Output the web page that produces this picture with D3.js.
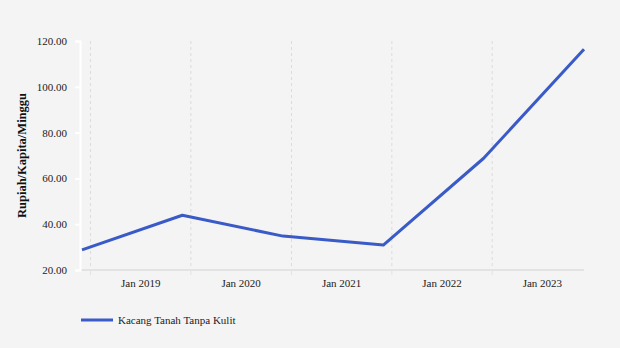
<!DOCTYPE html>
<html>
<head>
<meta charset="utf-8">
<script src="https://cdn.jsdelivr.net/npm/d3@7"></script>
<style>
  html, body { margin: 0; padding: 0; background: #f4f4f4; }
  svg { display: block; font-family: "Liberation Serif", "Times New Roman", serif; }
</style>
</head>
<body>
<svg id="chart" width="620" height="348"></svg>
<script>
// Weekly per-capita spending, peanuts without shell
const dates = ["2018-12-01", "2019-12-01", "2020-12-01", "2021-12-01", "2022-12-01", "2023-12-01"];
const values = [28.8, 43.9, 34.8, 30.9, 68.8, 116.4];
const yTicks = [20, 40, 60, 80, 100, 120];
const xTickYears = [2019, 2020, 2021, 2022, 2023];
const seriesName = "Kacang Tanah Tanpa Kulit";
const yTitle = "Rupiah/Kapita/Minggu";

const parse = d3.timeParse("%Y-%m-%d");
const data = dates.map((d, i) => ({ date: parse(d), value: values[i] }));

const svg = d3.select("#chart");
const plot = { left: 82, right: 584, top: 41, bottom: 270 };

const x = d3.scaleTime()
  .domain(d3.extent(data, d => d.date))
  .range([plot.left, plot.right]);
const y = d3.scaleLinear().domain([20, 120]).range([plot.bottom, plot.top]);

const tickDates = xTickYears.map(yr => new Date(yr, 0, 1));

// vertical dashed grid at each January
svg.append("g").selectAll("line").data(tickDates).join("line")
  .attr("x1", d => x(d)).attr("x2", d => x(d))
  .attr("y1", plot.top).attr("y2", plot.bottom)
  .attr("stroke", "#dcdcdc").attr("stroke-width", 1)
  .attr("stroke-dasharray", "3,3");

// x axis baseline and ticks
const xAxis = svg.append("g");
xAxis.append("line")
  .attr("x1", plot.left - 1).attr("x2", plot.right)
  .attr("y1", plot.bottom).attr("y2", plot.bottom)
  .attr("stroke", "#e3e3e3").attr("stroke-width", 2);
xAxis.selectAll("line.tick").data(tickDates).join("line")
  .attr("class", "tick")
  .attr("x1", d => x(d)).attr("x2", d => x(d))
  .attr("y1", plot.bottom).attr("y2", plot.bottom + 5)
  .attr("stroke", "#e3e3e3").attr("stroke-width", 1);
// year labels centred within each year
xAxis.selectAll("text").data(tickDates).join("text")
  .attr("x", d => (x(d) + x(d3.timeYear.offset(d, 1))) / 2)
  .attr("y", plot.bottom + 17)
  .attr("text-anchor", "middle")
  .attr("font-size", 11)
  .attr("fill", "#222")
  .text(d => d3.timeFormat("Jan %Y")(d));

// y axis
const yAxis = svg.append("g").attr("transform", `translate(${plot.left - 2},0)`)
  .call(d3.axisLeft(y).tickValues(yTicks).tickFormat(d3.format(".2f")).tickSize(5).tickPadding(8));
yAxis.select(".domain").attr("stroke", "#ffffff").attr("stroke-width", 2);
yAxis.selectAll(".tick line").attr("stroke", "#ffffff").attr("stroke-width", 2);
yAxis.selectAll(".tick text")
  .attr("font-family", "Liberation Serif, serif")
  .attr("font-size", 11).attr("fill", "#222");

// y title
svg.append("text")
  .attr("transform", `translate(26,${(plot.top + plot.bottom) / 2}) rotate(-90)`)
  .attr("text-anchor", "middle")
  .attr("font-size", 12.5).attr("font-weight", "bold").attr("fill", "#111")
  .text(yTitle);

// series line
const line = d3.line().x(d => x(d.date)).y(d => y(d.value));
svg.append("path").datum(data)
  .attr("d", line)
  .attr("fill", "none")
  .attr("stroke", "#3a5bc7")
  .attr("stroke-width", 3)
  .attr("stroke-linejoin", "round");

// legend
const lg = svg.append("g").attr("transform", "translate(81,320)");
lg.append("line").attr("x1", 0).attr("x2", 32).attr("y1", 0).attr("y2", 0)
  .attr("stroke", "#3a5bc7").attr("stroke-width", 3);
lg.append("text").attr("x", 37).attr("y", 4)
  .attr("font-size", 11).attr("fill", "#222")
  .text(seriesName);
</script>
</body>
</html>
